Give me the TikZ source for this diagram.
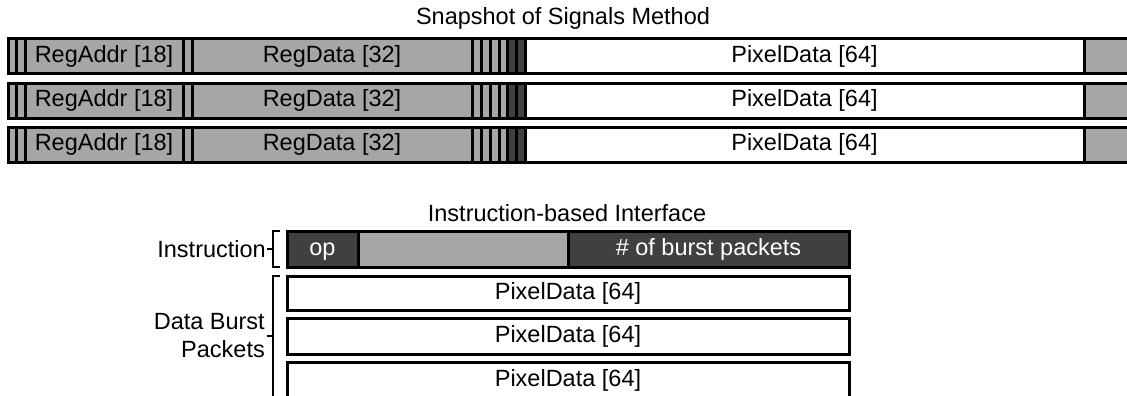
\documentclass[tikz,border=0pt]{standalone}
\usepackage{fontspec}
\setmainfont{Liberation Sans}
\definecolor{lg}{HTML}{A6A6A6}
\definecolor{dg}{HTML}{404040}
\begin{document}
\begin{tikzpicture}[x=1pt,y=-1pt,
  cell/.style={draw=black,line width=3pt,inner sep=0pt,outer sep=0pt,anchor=north west,text height=17pt,text depth=5pt,font=\fontsize{23.5}{28}\selectfont},
  lab/.style={inner sep=0pt,font=\fontsize{23.5}{28}\selectfont},
  brk/.style={line width=2.5pt}]
\useasboundingbox (0,0) rectangle (1127,396);
\clip (0,0) rectangle (1127,396);
\node[lab] (t1) at (563,18) {Snapshot of Signals Method};
\foreach \r/\y in {1/39,2/83,3/127}{
  \node[cell,fill=lg,minimum width=8,minimum height=35] (s\r a) at (8,\y) {};
  \node[cell,fill=lg,minimum width=9,minimum height=35] (s\r b) at (16,\y) {};
  \node[cell,fill=lg,minimum width=158,minimum height=35] (addr\r) at (25,\y) {RegAddr [18]};
  \node[cell,fill=lg,minimum width=9,minimum height=35] (s\r c) at (183,\y) {};
  \node[cell,fill=lg,minimum width=280,minimum height=35] (data\r) at (192,\y) {RegData [32]};
  \node[cell,fill=lg,minimum width=9,minimum height=35] (s\r d) at (472,\y) {};
  \node[cell,fill=lg,minimum width=9,minimum height=35] (s\r e) at (481,\y) {};
  \node[cell,fill=lg,minimum width=9,minimum height=35] (s\r f) at (490,\y) {};
  \node[cell,fill=lg,minimum width=8,minimum height=35] (s\r g) at (499,\y) {};
  \node[cell,fill=dg,minimum width=9,minimum height=35] (s\r h) at (507,\y) {};
  \node[cell,fill=dg,minimum width=9,minimum height=35] (s\r i) at (516,\y) {};
  \node[cell,fill=white,minimum width=559,minimum height=35] (pix\r) at (525,\y) {PixelData [64]};
  \node[cell,fill=lg,minimum width=46,minimum height=35] (end\r) at (1084,\y) {};
}
\node[lab] (t2) at (567,213) {Instruction-based Interface};
\node[cell,fill=dg,text=white,minimum width=71,minimum height=36] (op) at (287,231) {op};
\node[cell,fill=lg,minimum width=210,minimum height=36] (mid) at (358,231) {};
\node[cell,fill=dg,text=white,minimum width=281,minimum height=36] (num) at (568,231) {\# of burst packets};
\node[cell,fill=white,minimum width=562,minimum height=34] (p1) at (287,276) {PixelData [64]};
\node[cell,fill=white,minimum width=562,minimum height=36] (p2) at (287,318) {PixelData [64]};
\node[cell,fill=white,minimum width=562,minimum height=36] (p3) at (287,362) {PixelData [64]};
% brackets
\draw[brk] (280,231) -- (273,231) -- (273,267) -- (280,267);
\draw[brk] (273,249) -- (267,249);
\node[lab,anchor=east] (il) at (266,249) {Instruction};
\draw[brk] (280,276) -- (273,276) -- (273,400);
\draw[brk] (273,336) -- (267,336);
\node[lab,anchor=east,align=right] (dl) at (265,336) {Data Burst\\Packets};
\end{tikzpicture}
\end{document}
